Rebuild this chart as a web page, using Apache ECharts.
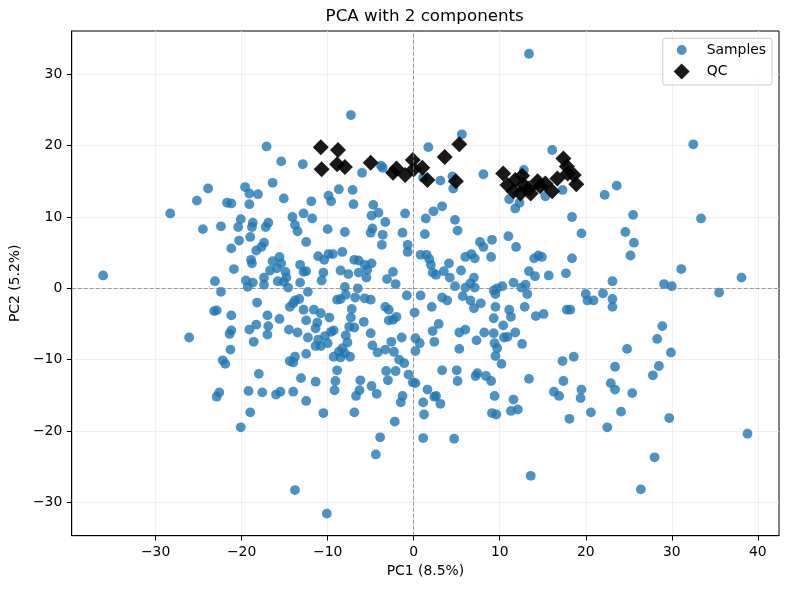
<!DOCTYPE html>
<html>
<head>
<meta charset="utf-8">
<title>PCA with 2 components</title>
<script src="https://cdn.jsdelivr.net/npm/echarts@6/dist/echarts.min.js"></script>
<style>
  html, body { margin: 0; padding: 0; background: #fff; }
  #chart { width: 790px; height: 590px; }
</style>
</head>
<body>
<div id="chart"></div>
<script>
// sample scores (PC1, PC2)
var samplePC1 = [
  -17.1, -15.4, -12.9, -23.9, -16.4, -19.6, -19.1, -18.1, -15.1, -25.2,
  -21.7, -21.2, -19.1, -11.9, -28.3, -24.5, -22.4, -20.1, -20.4, -18.7, -18.8, -16.9, -17.2, -14.1, -12.8, -13.8, -13.5, -12.5, -19.0, -20.3,
  -21.2, -17.4, -17.7, -18.3, -18.9, -18.8, -20.9, -16.4, -15.6, -15.4, -15.9, -16.7, -14.9, -13.2, -12.8, -12.5, -14.8, -15.8, -15.1, -14.6,
  -13.2, -17.4, -17.4, -19.5, -18.7, -19.3, -23.1, -22.4, -36.1, -12.3, -18.2, -13.8, -13.3, -14.0, -14.4, -12.8, -23.2, -22.9, -21.2, -17.0,
  -15.6, -12.5, -18.3, -19.1, -16.9, -17.0, -21.2, -21.4, -14.5, -13.5, -12.3, -26.1, -18.6, -21.3, -12.5, -22.2, -21.9, -14.4, -13.8, -14.0,
  -18.0, -13.1, -22.9, -22.6, -19.2, -17.6, -16.0, -15.5, -14.0, -12.5, -19.0, -20.1, -13.8,
  13.4, -7.3, 5.6, 1.7, -3.8, -3.6, -6.0, 1.1, 3.1, 4.5, 4.6, 8.1, 12.8, -9.9, -8.7, -7.1, 11.1,
  16.1, 12.3, 15.3, 17.3, 11.8,
  32.5, 23.6, 22.2,
  -9.6, -7.0, -4.7, 3.3, -11.8, -4.9, -4.1, -3.3, -1.0, -10.0, -8.0, -4.8, -5.0, -3.6, -3.7, -1.3, -0.7, -0.7, -11.1, -10.4,
  -9.9, -9.4, -8.3, -6.9, -6.4, -5.7, -4.9, -5.4, -5.5, -6.4, -7.6, -8.5, -10.5, -10.7, -8.0, -6.5, -2.4, -3.1, -2.1, -7.9,
  -8.5, -8.9, -6.8, -5.7, -5.0, -0.8, 0.8, -11.6, -10.8, -9.8, -11.2, -11.4, -7.2, -7.3, -3.3, -2.9, -2.4, -2.0, -2.9, 0.1,
  -5.8, -7.5, -6.9, -9.3, -9.6, -10.3, -11.1, -7.9, -5.0, -7.7, -4.8, -2.6, -1.4, -3.3, -2.3, -4.2, -11.4, -10.8, -10.0, -8.3,
  -8.7, -8.0, -9.3, -8.5, -7.4, -1.7, -1.1, 0.2, 0.2, 0.7,
  1.4, 2.3, 4.8, 5.1, 1.3, 0.8, 1.5, 1.8, 2.0, 2.2, 2.6, 3.5, 4.1, 4.2, 5.5, 4.8, 6.0, 6.7, 7.1, 7.7,
  8.1, 9.1, 9.0, 11.0, 11.9, 7.0, 6.6, 6.0, 7.1, 5.7, 6.6, 7.0, 7.8, 3.3, 3.9, 2.1, 9.3, 9.5, 9.7, 10.3,
  9.5, 11.6, 12.5, 13.0, 13.2, 13.4, 14.1, 14.0, 14.5, 12.9, 11.1, 11.3, 9.3, 10.4, 14.2, 2.9, 2.2, 2.4, 5.3, 6.0,
  5.3, 7.3, 8.2, 9.3, 9.4, 9.7, 9.5, 10.2, 10.5, 10.9, 11.8, 12.6,
  14.9, 18.4, 19.5, 25.5, 24.6, 25.6, 25.2, 33.4, 18.4, 15.7, 17.7, 23.1, 31.1, 29.1, 30.0, 38.1, 35.5, 20.0, 20.2, 20.9,
  22.0, 23.1, 23.1, 15.1, 17.8, 18.2, 28.9, 28.3, 29.9, 24.8, 17.3, 18.6, 23.4, 28.5,
  -8.9, -3.2, -2.1, -0.6, 3.3, 5.0, 7.4, 7.2, 8.4, 9.0, 13.4, -11.4, -9.1, -9.2, -6.2, -6.3, -6.7, -4.9, -4.3, -3.0,
  -1.3, -1.5, 0.2, -0.1, 1.6, 2.4, 2.6, 3.1, 1.1, 1.2, 5.1, 9.4, 9.1, 9.6, 11.6, 11.3, 12.1, -10.5, -6.9, -2.2,
  -3.9, -4.4, 1.1, 4.7, 13.6, -10.1,
  27.8, 17.4, 16.3, 16.9, 19.5, 19.4, 22.9, 23.4, 25.4, 18.1, 20.6, 24.1, 22.5, 29.7, 38.8, 28.0, 26.4
];
var samplePC2 = [
  19.9, 17.8, 17.4, 14.0, 14.8, 14.2, 13.3, 13.2, 12.6, 12.3,
  12.0, 11.9, 11.8, 12.2, 10.5, 8.3, 8.7, 9.7, 8.6, 9.2, 8.6, 9.2, 8.6, 10.0, 10.5, 8.9, 8.0, 6.5, 7.2, 6.7,
  5.6, 6.4, 5.8, 5.3, 4.0, 3.5, 2.7, 3.8, 4.4, 3.5, 2.8, 2.5, 2.3, 3.3, 2.3, 2.4, 1.5, 1.0, 0.9, 0.1,
  0.8, 1.5, 0.5, 1.1, 0.8, 0.2, 1.0, -0.5, 1.8, -0.5, -2.0, -1.7, -1.5, -2.1, -2.6, -3.0, -3.2, -3.1, -3.8, -3.8,
  -4.3, -4.5, -5.1, -5.8, -5.3, -6.5, -5.9, -6.4, -5.8, -6.2, -6.9, -6.9, -7.5, -8.6, -9.2, -10.1, -10.6, -10.2, -9.6, -10.4,
  -12.0, -12.6, -15.2, -14.6, -14.4, -14.6, -14.9, -14.5, -14.5, -15.8, -17.4, -19.5, -28.3,
  32.9, 24.3, 21.6, 19.8, 17.2, 16.9, 16.2, 15.5, 15.1, 15.7, 14.0, 16.0, 16.6, 13.0, 13.9, 13.8, 12.5,
  19.4, 12.0, 12.9, 13.8, 11.2,
  20.2, 14.4, 13.1,
  12.2, 11.8, 11.7, 11.5, 9.8, 10.2, 10.6, 9.3, 10.5, 8.3, 7.9, 8.4, 7.8, 7.5, 6.1, 7.8, 6.1, 5.1, 4.5, 4.0,
  4.8, 4.8, 5.1, 4.0, 3.9, 3.3, 3.5, 2.6, 1.5, 2.2, 2.0, 2.5, 2.2, 1.1, 0.2, 0.0, 2.3, 1.3, 0.6, -0.9,
  -1.5, -1.6, -1.3, -1.4, -1.6, -1.0, -1.0, -3.0, -3.5, -4.1, -4.8, -5.6, -2.9, -4.1, -2.6, -3.0, -4.4, -4.0, -4.5, -3.4,
  -4.7, -5.4, -5.5, -5.9, -6.1, -6.7, -7.2, -6.6, -6.3, -7.6, -8.0, -7.5, -6.9, -8.6, -8.9, -9.0, -8.1, -8.1, -7.7, -8.4,
  -8.9, -9.1, -9.6, -9.7, -9.6, -10.0, -10.5, -8.8, -7.0, -7.7,
  9.8, 10.8, 9.6, 8.1, 7.6, 4.7, 4.7, 4.1, 3.3, 2.2, 1.9, 2.4, 3.5, 1.5, 2.5, 0.3, 4.4, 4.8, 4.2, 6.5,
  5.8, 6.8, 4.4, 7.3, 5.8, 1.5, 0.7, 0.1, 0.1, -1.1, -1.7, -2.8, -2.1, -1.3, -1.7, -2.6, -0.3, -0.8, 0.0, 0.3,
  -2.6, 0.8, 0.1, 0.5, -0.8, 2.4, 1.7, 4.2, 4.6, -2.6, -3.0, -4.0, -4.2, -5.2, -3.9, -5.0, -6.0, -7.5, -6.2, -5.8,
  -8.5, -7.3, -6.2, -6.3, -7.7, -8.4, -9.5, -10.6, -6.9, -6.8, -6.2, -7.8,
  4.4, 10.0, 7.7, 10.3, 7.9, 6.4, 4.6, 9.8, 4.2, 1.8, 2.1, 1.0, 2.7, 0.6, 0.3, 1.5, -0.6, -0.8, -1.7, -1.7,
  -0.7, -1.5, -2.6, -3.6, -3.0, -3.0, -5.3, -7.1, -9.0, -8.5, -10.2, -9.6, -11.0, -10.9,
  -11.5, -11.6, -11.6, -12.1, -11.5, -11.5, -11.9, -12.3, -12.3, -13.0, -12.7, -13.1, -13.0, -14.3, -12.9, -14.3, -15.1, -13.7, -14.8, -12.9,
  -15.1, -16.0, -13.3, -13.2, -14.2, -15.2, -15.1, -16.2, -16.0, -17.7, -13.0, -15.1, -17.5, -17.7, -15.6, -17.2, -17.0, -17.5, -17.4, -18.7,
  -20.9, -23.3, -21.0, -21.1, -26.3, -31.6,
  -12.2, -13.0, -14.5, -15.1, -14.2, -15.4, -13.3, -14.2, -14.7, -18.3, -17.4, -17.3, -19.5, -18.2, -20.4, -23.7, -28.2
];

// QC scores (PC1, PC2)
var qcPC1 = [
  -10.8, -8.8, -10.7, -8.9, -8.0, -5.0, -2.4, -2.0, -1.0, -0.1, 0.0, 1.0, 1.6, 3.6, 5.3, 4.9,
  10.4, 10.9, 11.6, 12.6, 12.8, 12.4, 13.4, 13.6, 14.4, 14.7, 15.3, 16.1, 16.7, 17.4, 17.8, 17.9, 18.6, 18.9, 11.8
];
var qcPC2 = [
  19.8, 19.4, 16.7, 17.4, 17.0, 17.6, 16.2, 16.8, 15.9, 18.0, 16.7, 16.9, 15.2, 18.4, 20.2, 15.0,
  16.1, 14.5, 13.6, 15.8, 14.5, 13.3, 14.0, 13.3, 15.0, 14.3, 14.7, 13.6, 15.4, 18.2, 17.1, 16.1, 15.9, 14.6, 15.2
];

var FONT = 'DejaVu Sans';
var TITLE = 'PCA with 2 components';

function pairs(xs, ys) {
  return xs.map(function (x, i) { return [x, ys[i]]; });
}

function tickLabel(v) {
  return v < 0 ? '\u2212' + Math.abs(v) : String(v);
}

// centre the title over the plot area, not the whole canvas
var ctx = document.createElement('canvas').getContext('2d');
ctx.font = '16.7px "' + FONT + '"';
var titleLeft = 424.7 - ctx.measureText(TITLE).width / 2;

// small circle inside a 16x16 box, so the legend dot is smaller than the diamond
var smallDot = 'path://M0,0M16,16M3.1,8A4.9,4.9,0,1,0,12.9,8A4.9,4.9,0,1,0,3.1,8Z';

var myChart = echarts.init(document.getElementById('chart'));

var option = {
  animation: false,
  backgroundColor: '#fff',
  title: {
    text: TITLE,
    left: titleLeft,
    top: 8,
    padding: 0,
    textStyle: { fontFamily: FONT, fontSize: 16.7, fontWeight: 'normal', color: '#000' }
  },
  legend: {
    data: [
      { name: 'Samples', icon: smallDot },
      { name: 'QC', icon: 'diamond' }
    ],
    orient: 'vertical',
    left: 662.7,
    top: 38.3,
    itemWidth: 16,
    itemHeight: 16,
    itemGap: 5.5,
    padding: [3.7, 6, 5.5, 11],
    borderColor: '#cccccc',
    borderWidth: 1,
    borderRadius: 3,
    backgroundColor: 'rgba(255,255,255,0.8)',
    textStyle: { fontFamily: FONT, fontSize: 13.9, lineHeight: 16, color: '#000', padding: [0, 0, 0, 12] }
  },
  grid: {
    left: 70.4,
    right: 11,
    top: 31,
    bottom: 54.3,
    show: true,
    borderColor: '#000',
    borderWidth: 1
  },
  xAxis: {
    type: 'value',
    min: -39.75,
    max: 42.46,
    splitNumber: 8,
    name: 'PC1 (8.5%)',
    nameLocation: 'middle',
    nameGap: 28.5,
    nameTextStyle: { fontFamily: FONT, fontSize: 13.9, color: '#000' },
    axisLine: { onZero: false, lineStyle: { color: '#000', width: 1 } },
    axisTick: { show: true, inside: false, length: 4.9, lineStyle: { color: '#000', width: 1 } },
    axisLabel: {
      fontFamily: FONT, fontSize: 13.9, color: '#000', margin: 9.5,
      showMinLabel: false, showMaxLabel: false, formatter: tickLabel
    },
    splitLine: { show: true, showMinLine: false, showMaxLine: false, lineStyle: { color: '#ebebeb', width: 0.8 } }
  },
  yAxis: {
    type: 'value',
    min: -34.7,
    max: 36.09,
    splitNumber: 7,
    name: 'PC2 (5.2%)',
    nameLocation: 'middle',
    nameGap: 42.5,
    nameTextStyle: { fontFamily: FONT, fontSize: 13.9, color: '#000' },
    axisLine: { onZero: false, lineStyle: { color: '#000', width: 1 } },
    axisTick: { show: true, inside: false, length: 4.9, lineStyle: { color: '#000', width: 1 } },
    axisLabel: {
      fontFamily: FONT, fontSize: 13.9, color: '#000', margin: 9.5,
      showMinLabel: false, showMaxLabel: false, formatter: tickLabel
    },
    splitLine: { show: true, showMinLine: false, showMaxLine: false, lineStyle: { color: '#ebebeb', width: 0.8 } }
  },
  series: [
    {
      // dashed zero lines
      type: 'scatter',
      data: [],
      z: 1,
      markLine: {
        silent: true,
        symbol: 'none',
        animation: false,
        label: { show: false },
        lineStyle: { color: '#808080', type: [4, 2], width: 0.8 },
        data: [{ xAxis: 0 }, { yAxis: 0 }]
      }
    },
    {
      name: 'Samples',
      type: 'scatter',
      symbol: 'circle',
      symbolSize: 9.8,
      z: 2,
      itemStyle: { color: 'rgba(31,119,180,0.8)', opacity: 1 },
      data: pairs(samplePC1, samplePC2)
    },
    {
      name: 'QC',
      type: 'scatter',
      symbol: 'diamond',
      symbolSize: 16,
      z: 3,
      itemStyle: { color: 'rgba(0,0,0,0.9)', opacity: 1 },
      data: pairs(qcPC1, qcPC2)
    }
  ]
};

myChart.setOption(option);
</script>
</body>
</html>
